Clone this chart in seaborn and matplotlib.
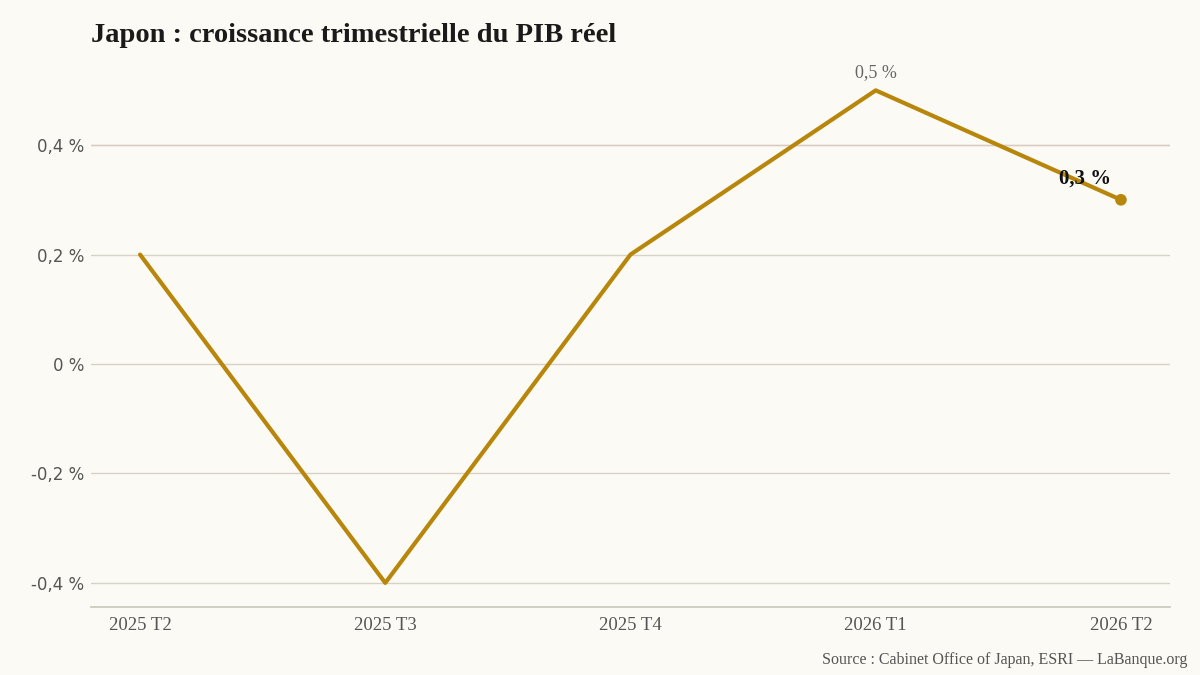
import matplotlib
matplotlib.use("Agg")
import matplotlib.pyplot as plt
import seaborn as sns
import pandas as pd

quarters = ["2025 T2", "2025 T3", "2025 T4", "2026 T1", "2026 T2"]
growth = [0.2, -0.4, 0.2, 0.5, 0.3]
yticks = [-0.4, -0.2, 0.0, 0.2, 0.4]
ytick_labels = ["-0,4 %", "-0,2 %", "0 %", "0,2 %", "0,4 %"]

BG = "#fbfaf4"
GOLD = "#b8860b"
SERIF = ["Liberation Serif", "DejaVu Serif"]

sns.set_theme(style="white")
plt.rcParams["font.family"] = ["DejaVu Sans"]

df = pd.DataFrame({"q": range(len(quarters)), "g": growth})

fig = plt.figure(figsize=(12, 6.75), dpi=100, facecolor=BG)
ax = fig.add_axes([91/1200, 1-607/675, (1170-91)/1200, (607-63)/675])
ax.set_facecolor(BG)

for yv in yticks:
    ax.axhline(yv, color="#d8d2c6", lw=1, zorder=1)
ax.axhline(0.4, color="#ddcbc3", lw=1, zorder=1)

sns.lineplot(data=df, x="q", y="g", color=GOLD, lw=3, ax=ax, zorder=3)
ax.scatter([df["q"].iloc[-1]], [df["g"].iloc[-1]], s=70, color=GOLD, zorder=4, edgecolor="none")

ax.set_xlim(-0.2, 4.2)
ax.set_ylim(-0.444, 0.55)
ax.set_xticks(range(len(quarters)))
ax.set_xticklabels(quarters, family=SERIF, fontsize=13.5, color="#555555")
ax.set_yticks(yticks)
ax.set_yticklabels(ytick_labels, fontsize=12, color="#555555")
ax.tick_params(axis="x", length=0, pad=7)
ax.tick_params(axis="y", length=0, pad=5)
ax.set_xlabel("")
ax.set_ylabel("")
for s in ["top", "left", "right"]:
    ax.spines[s].set_visible(False)
ax.spines["bottom"].set_color("#ccc6b8")
ax.spines["bottom"].set_linewidth(1.2)

ax.annotate("0,5 %", (3, growth[3]), xytext=(0, 7), textcoords="offset points",
            ha="center", va="bottom", family=SERIF, fontsize=13, color="#666666")
ax.annotate("0,3 %", (4, growth[4]), xytext=(-26, 8), textcoords="offset points",
            ha="center", va="bottom", family=SERIF, fontsize=15, fontweight="bold", color="#111111")

fig.text(91/1200, 1-36/675, "Japon : croissance trimestrielle du PIB réel", family=SERIF,
         fontsize=20.5, fontweight="bold", color="#1a1a1a", ha="left", va="center")
fig.text(1187/1200, 1-660/675, "Source : Cabinet Office of Japan, ESRI — LaBanque.org", family=SERIF,
         fontsize=11.5, color="#555555", ha="right", va="center")

fig.savefig("out.png", dpi=100, facecolor=BG)
